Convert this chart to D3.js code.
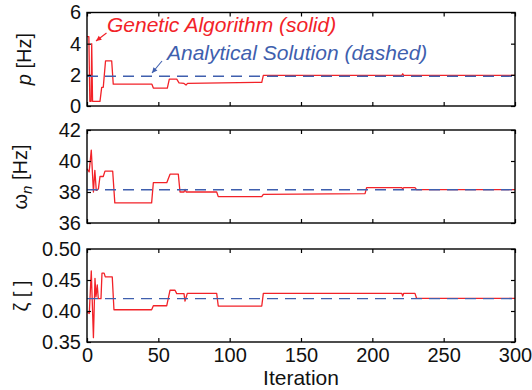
<!DOCTYPE html>
<html><head><meta charset="utf-8">
<script src="https://cdn.jsdelivr.net/npm/d3@7"></script>
<style>
body{margin:0;background:#fff;}
svg{display:block;font-family:"Liberation Sans",Arial,Helvetica,sans-serif;}
</style></head>
<body>
<svg id="c" width="532" height="390"></svg>
<script>
// ---- data ----
const xTicks = [0, 50, 100, 150, 200, 250, 300];

const iterP = [0,1.3,2,2.9,3.3,3.9,9.1,10.3,11.4,13,17.3,18.4,45.5,46.5,56.3,57.7,62.9,64.5,68,69.4,70.5,122.5,123.6,220.6,221.3,222,300];
const pGA   = [4.45,4.45,0.3,0.3,4.0,0.3,0.3,1.2,1.2,2.9,2.9,1.4,1.4,1.15,1.15,1.72,1.72,1.49,1.45,1.35,1.45,1.52,1.97,1.97,2.07,1.97,1.97];
const pAnalytical = 1.91;
const pTicks = [0, 2, 4, 6];

const iterW = [0,1.5,3,4.5,5.5,6.5,8,9.1,11.4,12.6,18,19.5,45.3,46.5,55.9,58.2,64,65.2,68,68.7,69.5,90.9,92,122.5,123.6,194.9,196,220.6,221.3,222,229.9,231,300];
const wGA   = [39.5,39.3,40.7,38.0,39.4,38.1,38.2,39.0,39.0,39.35,39.35,37.3,37.3,38.6,38.6,39.15,39.15,38.0,38.0,38.17,38.0,38.0,37.7,37.7,37.85,37.9,38.28,38.28,38.2,38.28,38.28,38.15,38.15];
const wAnalytical = 38.15;
const wTicks = [36, 38, 40, 42];

const iterZ = [0,1.6,3,4.5,5.6,6.3,7.2,7.9,9.8,10.5,12,12.8,17.7,18.9,45.3,46.5,55.9,58.2,61.7,62.9,68,68.7,70.3,90.9,92,122.5,123.6,220.6,221.3,222,229.9,231,300];
const zGA   = [0.398,0.396,0.4645,0.357,0.4527,0.423,0.442,0.42,0.42,0.461,0.461,0.455,0.455,0.402,0.402,0.4085,0.4085,0.4335,0.4335,0.428,0.428,0.416,0.4285,0.4285,0.408,0.408,0.4285,0.4285,0.424,0.4285,0.4285,0.4205,0.4205];
const zAnalytical = 0.42;
const zTicks = [0.35, 0.40, 0.45, 0.50];

// ---- drawing ----
const RED = "#f22228", BLUE = "#3f5fae";
const svg = d3.select("#c");
const left = 87, right = 515;
const x = d3.scaleLinear().domain([0, 300]).range([left, right]);

const panels = [
  {iter: iterP, vals: pGA, ana: pAnalytical, ticks: pTicks, dom: [0, 6], top: 12.5, bot: 106, fmt: d3.format("d")},
  {iter: iterW, vals: wGA, ana: wAnalytical, ticks: wTicks, dom: [36, 42], top: 130, bot: 223, fmt: d3.format("d")},
  {iter: iterZ, vals: zGA, ana: zAnalytical, ticks: zTicks, dom: [0.35, 0.5], top: 249, bot: 342, fmt: d3.format(".2f")}
];

panels.forEach((P, i) => {
  const y = d3.scaleLinear().domain(P.dom).range([P.bot, P.top]);
  const g = svg.append("g");
  const data = P.iter.map((t, k) => [t, P.vals[k]]);
  g.append("path").datum(data)
    .attr("fill", "none").attr("stroke", RED).attr("stroke-width", 1.3)
    .attr("stroke-linejoin", "round")
    .attr("d", d3.line().x(d => x(d[0])).y(d => y(d[1])));
  g.append("line")
    .attr("x1", x(0)).attr("x2", x(300)).attr("y1", y(P.ana)).attr("y2", y(P.ana))
    .attr("stroke", BLUE).attr("stroke-width", 1.4).attr("stroke-dasharray", "11,7");

  const style = a => {
    a.select(".domain").remove();
    a.selectAll("line").attr("stroke", "#000").attr("stroke-width", 1.2);
    a.selectAll("text").attr("font-size", 20).attr("fill", "#111")
      .attr("font-family", "'Liberation Sans',Arial,sans-serif");
  };
  svg.append("g").attr("transform", `translate(${left},0)`)
    .call(d3.axisLeft(y).tickValues(P.ticks).tickSize(-4).tickPadding(6).tickFormat(P.fmt)).call(style);
  svg.append("g").attr("transform", `translate(${right},0)`)
    .call(d3.axisRight(y).tickValues(P.ticks).tickSize(-4).tickFormat("")).call(style);
  svg.append("g").attr("transform", `translate(0,${P.top})`)
    .call(d3.axisTop(x).tickValues(xTicks).tickSize(-4).tickFormat("")).call(style);
  svg.append("g").attr("transform", `translate(0,${P.bot})`)
    .call(d3.axisBottom(x).tickValues(xTicks).tickSize(-4).tickPadding(6)
      .tickFormat(i === 2 ? d3.format("d") : "")).call(style);

  svg.append("rect").attr("x", left).attr("y", P.top)
    .attr("width", right - left).attr("height", P.bot - P.top)
    .attr("fill", "none").attr("stroke", "#000").attr("stroke-width", 1.4);
});

// y axis titles
const t1 = svg.append("text").attr("transform", "translate(31,59) rotate(-90)")
  .attr("text-anchor", "middle").attr("font-size", 20).attr("fill", "#111");
t1.append("tspan").attr("font-style", "italic").text("p");
t1.append("tspan").text(" [Hz]");

const t2 = svg.append("text").attr("transform", "translate(27,177) rotate(-90)")
  .attr("text-anchor", "middle").attr("font-size", 20).attr("fill", "#111");
t2.append("tspan").text("ω");
t2.append("tspan").attr("font-style", "italic").attr("font-size", 15).attr("dy", 5).text("n");
t2.append("tspan").attr("dy", -5).text(" [Hz]");

svg.append("text").attr("transform", "translate(28,296) rotate(-90)")
  .attr("text-anchor", "middle").attr("font-size", 20).attr("fill", "#111").text("ζ [ ]");

// x axis title
svg.append("text").attr("x", x(150)).attr("y", 385).attr("text-anchor", "middle")
  .attr("font-size", 21).attr("fill", "#111").text("Iteration");

// annotations
svg.append("text").attr("x", 107).attr("y", 32).attr("font-size", 21)
  .attr("font-style", "italic").attr("fill", RED).text("Genetic Algorithm (solid)");
svg.append("text").attr("x", 167).attr("y", 60).attr("font-size", 21)
  .attr("font-style", "italic").attr("fill", BLUE).text("Analytical Solution (dashed)");

function arrow(x1, y1, x2, y2, col) {
  svg.append("line").attr("x1", x1).attr("y1", y1).attr("x2", x2).attr("y2", y2)
    .attr("stroke", col).attr("stroke-width", 1.1);
  const a = Math.atan2(y2 - y1, x2 - x1), L = 6, w = 0.45;
  const p = [[x2, y2],
    [x2 - L * Math.cos(a - w), y2 - L * Math.sin(a - w)],
    [x2 - L * Math.cos(a + w), y2 - L * Math.sin(a + w)]];
  svg.append("path").attr("d", "M" + p.join("L") + "Z").attr("fill", col);
}
arrow(106.5, 33, 96, 41, RED);
arrow(162, 61, 152, 73, BLUE);
</script>
</body></html>
